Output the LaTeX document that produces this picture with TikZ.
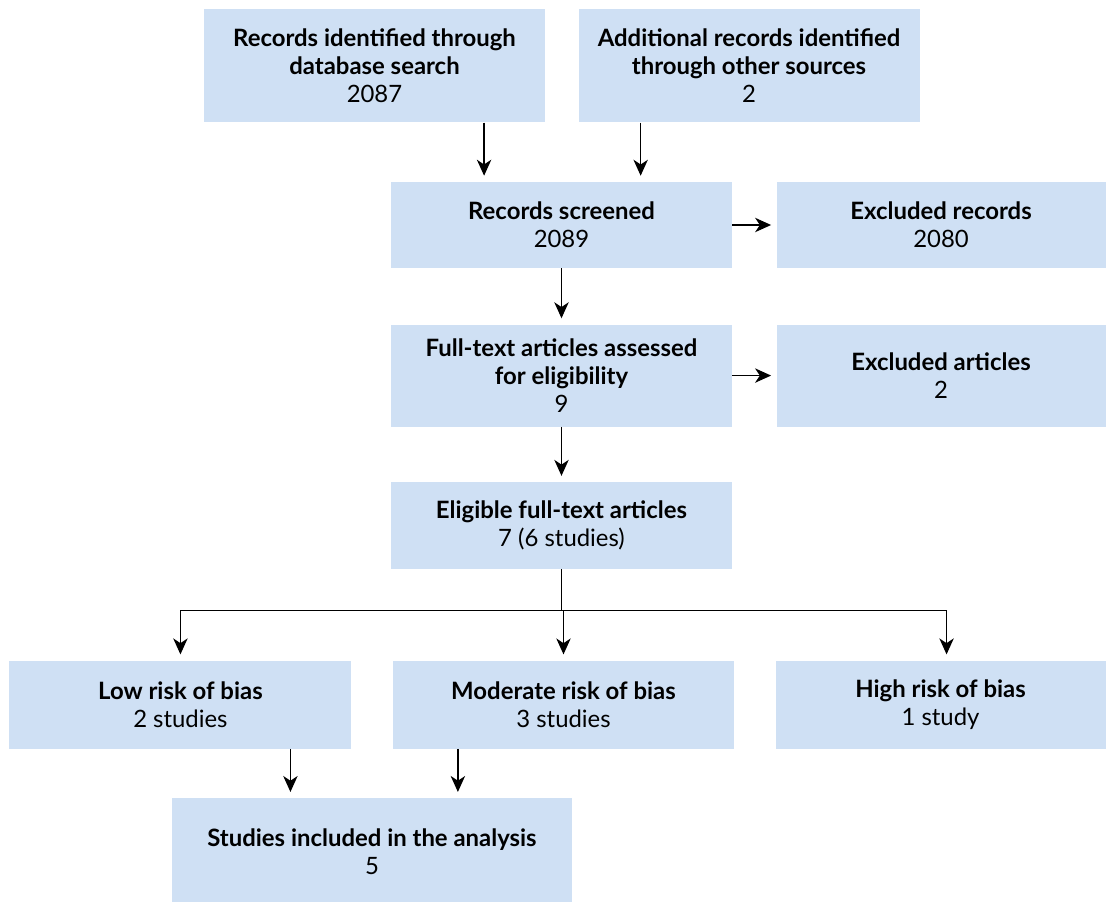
\documentclass[tikz,border=0pt]{standalone}
\usepackage{fontspec}
\setmainfont{Lato}
\usetikzlibrary{arrows.meta, positioning, calc}
\definecolor{boxblue}{RGB}{207,224,244}

\begin{document}
\begin{tikzpicture}[font=\fontsize{17}{19.9}\selectfont,
    box/.style={fill=boxblue, align=center, inner sep=0pt, minimum width=8.525cm},
    arr/.style={-{Stealth[length=4mm, width=3.6mm, inset=1.2mm]}, line width=0.9pt, shorten >=0.15cm},
    ]
    \useasboundingbox (-14.0375,-16.925) rectangle (13.6125,5.625);

    % Screening
    \node[box, minimum height=2.15cm] (screened) {\textbf{Records screened}\\2089};
    \node[box, minimum width=8.225cm, minimum height=2.15cm, right=1.1cm of screened] (exrec) {\textbf{Excluded records}\\2080};

    % Identification
    \node[box, minimum height=2.825cm, above=1.475cm of screened, xshift=-4.675cm] (dbsearch) {\textbf{Records identified through}\\\textbf{database search}\\2087};
    \node[box, minimum height=2.825cm, right=0.825cm of dbsearch] (other) {\textbf{Additional records identified}\\\textbf{through other sources}\\2};

    % Eligibility
    \node[box, minimum height=2.55cm, below=1.4cm of screened] (fulltext) {\textbf{Full-text articles assessed}\\\textbf{for eligibility}\\9};
    \node[box, minimum width=8.225cm, minimum height=2.55cm, right=1.1cm of fulltext] (exart) {\textbf{Excluded articles}\\2};
    \node[box, minimum height=2.175cm, below=1.375cm of fulltext] (eligible) {\textbf{Eligible full-text articles}\\7 (6 studies)};

    % Risk of bias
    \node[box, minimum height=2.2cm, below=2.275cm of eligible, xshift=0.05cm] (moderate) {\textbf{Moderate risk of bias}\\3 studies};
    \node[box, minimum width=8.55cm, minimum height=2.2cm, left=1.025cm of moderate] (low) {\textbf{Low risk of bias}\\2 studies};
    \node[box, minimum width=8.25cm, minimum height=2.2cm, right=1.025cm of moderate] (high) {\textbf{High risk of bias}\\1 study};

    % Included
    \coordinate (hk) at ($(low.south)!0.5!(moderate.south)$);
    \node[box, minimum width=10cm, minimum height=2.65cm, below=1.225cm of hk] (included) {\textbf{Studies included in the analysis}\\5};

    % Arrows
    \draw[arr] ([xshift=2.74cm]dbsearch.south) -- ([xshift=2.74cm]dbsearch.south |- screened.north);
    \draw[arr] ([xshift=-2.71cm]other.south) -- ([xshift=-2.71cm]other.south |- screened.north);
    \draw[arr, shorten >=0.13cm] (screened) -- (exrec);
    \draw[arr] (screened) -- (fulltext);
    \draw[arr, shorten >=0.13cm] (fulltext) -- (exart);
    \draw[arr] (fulltext) -- (eligible);

    \draw[line width=0.9pt] (eligible.south) -- ++(0,-1.025cm) coordinate (split);
    \foreach \t/\s in {low/0, moderate/0, high/0.15}
      \draw[arr] (split) -| ([xshift=\s cm]\t.north);

    \draw[arr] ([xshift=2.75cm]low.south) -- ([xshift=2.75cm]low.south |- included.north);
    \draw[arr] ([xshift=-2.64cm]moderate.south) -- ([xshift=-2.64cm]moderate.south |- included.north);
  \end{tikzpicture}
\end{document}
